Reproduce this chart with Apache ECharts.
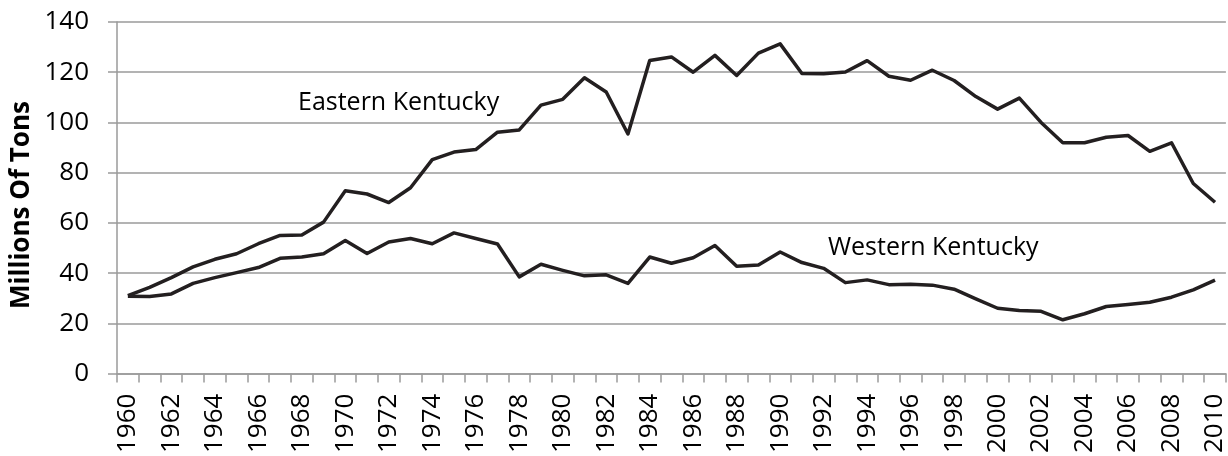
<!DOCTYPE html>
<html>
<head>
<meta charset="utf-8">
<script src="https://cdn.jsdelivr.net/npm/echarts@6/dist/echarts.min.js"></script>
<style>
html,body{margin:0;padding:0;background:#fff;}
#chart{width:1228px;height:456px;}
</style>
</head>
<body>
<div id="chart"></div>
<script>
const years = ['1960','1961','1962','1963','1964','1965','1966','1967','1968','1969',
  '1970','1971','1972','1973','1974','1975','1976','1977','1978','1979',
  '1980','1981','1982','1983','1984','1985','1986','1987','1988','1989',
  '1990','1991','1992','1993','1994','1995','1996','1997','1998','1999',
  '2000','2001','2002','2003','2004','2005','2006','2007','2008','2009','2010'];

const easternKentucky = [31, 34.3, 38.2, 42.5, 45.5, 47.7, 51.7, 55, 55.2, 60.3,
  72.8, 71.5, 68.1, 74, 85.2, 88.2, 89.2, 96.1, 97, 106.9,
  109.2, 117.8, 112.1, 95.4, 124.7, 126.1, 120, 126.7, 118.7, 127.6,
  131.3, 119.5, 119.4, 120.1, 124.6, 118.4, 116.8, 120.8, 116.7, 110.3,
  105.3, 109.7, 100, 91.9, 91.9, 94.1, 94.8, 88.5, 91.9, 75.7, 68.2];

const westernKentucky = [30.8, 30.7, 31.7, 35.9, 38.2, 40.2, 42.2, 45.9, 46.4, 47.7,
  53, 47.8, 52.4, 53.8, 51.7, 56, 53.8, 51.6, 38.5, 43.5,
  41.1, 38.9, 39.3, 35.9, 46.4, 43.9, 46.1, 51, 42.7, 43.2,
  48.4, 44.2, 41.9, 36.2, 37.3, 35.4, 35.6, 35.2, 33.6, 29.7,
  26, 25.1, 24.8, 21.4, 23.8, 26.7, 27.5, 28.4, 30.4, 33.3, 37.2];

const yTicks = { min: 0, max: 140, interval: 20 };
const yTitle = 'Millions Of Tons';
const seriesNames = ['Eastern Kentucky', 'Western Kentucky'];

const FONT = '"Open Sans", "Liberation Sans", sans-serif';
const gray = '#9a9a9a';
const lineColor = '#231f20';

const chart = echarts.init(document.getElementById('chart'), null, {renderer: 'canvas'});
chart.setOption({
  animation: false,
  backgroundColor: '#ffffff',
  grid: { left: 117, right: 0, top: 22, bottom: 79, containLabel: false },
  xAxis: {
    type: 'category',
    data: years,
    boundaryGap: true,
    axisLine: { show: true, lineStyle: { color: gray, width: 1.5 } },
    axisTick: { show: true, interval: 0, length: 9, lineStyle: { color: gray, width: 1.5 } },
    axisLabel: {
      interval: 1, rotate: 90, margin: 20,
      fontFamily: FONT, fontSize: 26, color: '#000'
    },
    splitLine: { show: false }
  },
  yAxis: {
    type: 'value',
    min: yTicks.min, max: yTicks.max, interval: yTicks.interval,
    axisLine: { show: true, lineStyle: { color: gray, width: 1.5 } },
    axisTick: { show: true, length: 9, lineStyle: { color: gray, width: 1.5 } },
    axisLabel: { margin: 28, fontFamily: FONT, fontSize: 26, color: '#000' },
    splitLine: { show: true, lineStyle: { color: gray, width: 1.5 } }
  },
  series: [
    {
      name: seriesNames[0], type: 'line', data: easternKentucky,
      symbol: 'none', smooth: false,
      lineStyle: { color: lineColor, width: 3.5, join: 'round' }
    },
    {
      name: seriesNames[1], type: 'line', data: westernKentucky,
      symbol: 'none', smooth: false,
      lineStyle: { color: lineColor, width: 3.5, join: 'round' }
    }
  ],
  graphic: [
    { type: 'text', x: 22, y: 205, rotation: Math.PI / 2,
      style: { text: yTitle, font: 'bold 26px ' + FONT, fill: '#000',
        align: 'center', verticalAlign: 'middle' } },
    { type: 'text', left: 298, top: 90,
      style: { text: seriesNames[0], font: '25px ' + FONT, fill: '#000' } },
    { type: 'text', left: 828, top: 235,
      style: { text: seriesNames[1], font: '25px ' + FONT, fill: '#000' } }
  ]
});
</script>
</body>
</html>
